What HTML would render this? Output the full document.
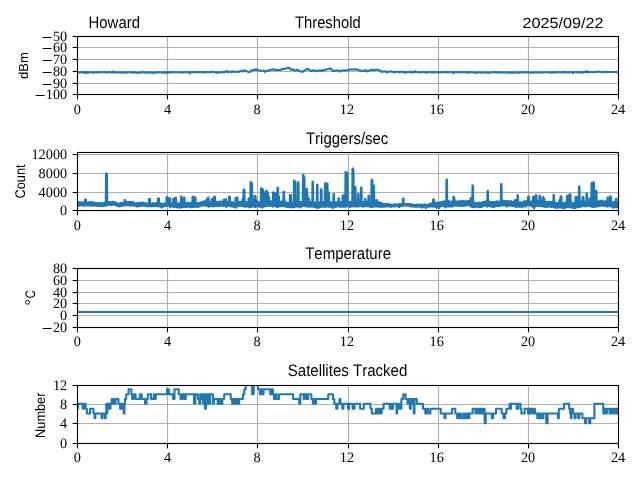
<!DOCTYPE html>
<html><head><meta charset="utf-8"><style>
html,body{margin:0;padding:0;background:#fff;width:640px;height:480px;overflow:hidden}
svg{display:block}
text{font-kerning:none;text-rendering:geometricPrecision}
#w{will-change:transform;width:640px;height:480px}
</style></head><body><div id="w">
<svg width="640" height="480" viewBox="0 0 640 480">
<rect width="640" height="480" fill="#fff"/>
<defs>
<clipPath id="c0"><rect x="77.50" y="36.50" width="541.00" height="58.00"/></clipPath>
<clipPath id="c1"><rect x="77.50" y="152.50" width="541.00" height="58.00"/></clipPath>
<clipPath id="c2"><rect x="77.50" y="268.50" width="541.00" height="59.00"/></clipPath>
<clipPath id="c3"><rect x="77.50" y="385.50" width="541.00" height="58.00"/></clipPath>
</defs>
<line x1="167.50" y1="36.50" x2="167.50" y2="94.50" stroke="#b0b0b0" stroke-width="1.11"/>
<line x1="257.50" y1="36.50" x2="257.50" y2="94.50" stroke="#b0b0b0" stroke-width="1.11"/>
<line x1="348.50" y1="36.50" x2="348.50" y2="94.50" stroke="#b0b0b0" stroke-width="1.11"/>
<line x1="438.50" y1="36.50" x2="438.50" y2="94.50" stroke="#b0b0b0" stroke-width="1.11"/>
<line x1="528.50" y1="36.50" x2="528.50" y2="94.50" stroke="#b0b0b0" stroke-width="1.11"/>
<line x1="77.50" y1="83.50" x2="618.50" y2="83.50" stroke="#b0b0b0" stroke-width="1.11"/>
<line x1="77.50" y1="71.50" x2="618.50" y2="71.50" stroke="#b0b0b0" stroke-width="1.11"/>
<line x1="77.50" y1="59.50" x2="618.50" y2="59.50" stroke="#b0b0b0" stroke-width="1.11"/>
<line x1="77.50" y1="47.50" x2="618.50" y2="47.50" stroke="#b0b0b0" stroke-width="1.11"/>
<polyline points="77.50,72.14 78.00,72.25 78.50,72.47 79.00,72.58 79.50,72.45 80.00,72.21 80.50,72.08 81.00,72.17 81.50,72.34 82.00,72.43 82.50,72.11 83.00,72.16 83.50,72.59 84.00,72.09 84.50,72.14 85.00,73.06 85.50,72.29 86.00,72.50 86.50,72.62 87.00,72.19 87.50,72.27 88.00,72.97 88.50,72.22 89.00,72.35 89.50,72.42 90.00,72.39 90.50,72.34 91.00,72.31 91.50,72.31 92.00,72.31 92.50,72.31 93.00,72.32 93.50,72.99 94.00,72.34 94.50,72.29 95.00,72.21 95.50,72.16 96.00,72.26 96.50,72.45 97.00,72.55 97.50,72.43 98.00,72.22 98.50,72.11 99.00,72.13 99.50,72.17 100.00,72.20 100.50,72.17 101.00,72.10 101.50,72.07 102.00,72.11 102.50,72.18 103.00,72.22 103.50,72.25 104.00,72.29 104.50,71.58 105.00,72.39 105.50,72.53 106.00,72.61 106.50,72.53 107.00,72.38 107.50,72.30 108.00,72.26 108.50,72.19 109.00,72.15 109.50,72.17 110.00,72.21 110.50,72.24 111.00,72.35 111.50,72.57 112.00,72.68 112.50,72.54 113.00,72.27 113.50,71.35 114.00,72.22 114.50,72.38 115.00,72.47 115.50,72.43 116.00,72.36 116.50,72.32 117.00,72.37 117.50,72.45 118.00,72.50 118.50,72.45 119.00,72.36 119.50,72.31 120.00,72.36 120.50,72.47 121.00,72.52 121.50,72.50 122.00,72.44 122.50,72.96 123.00,72.44 123.50,72.48 124.00,72.51 124.50,72.11 125.00,72.62 125.50,72.66 126.00,72.61 126.50,72.23 127.00,72.47 127.50,72.41 128.00,72.28 128.50,72.21 129.00,72.20 129.50,72.18 130.00,72.17 130.50,72.31 131.00,72.05 131.50,72.70 132.00,72.63 132.50,72.50 133.00,72.43 133.50,72.39 134.00,72.30 134.50,72.26 135.00,72.38 135.50,72.60 136.00,72.71 136.50,72.66 137.00,72.89 137.50,72.50 138.00,72.69 138.50,72.57 139.00,72.59 139.50,72.62 140.00,72.66 140.50,72.69 141.00,72.60 141.50,72.43 142.00,72.33 142.50,71.62 143.00,72.27 143.50,72.38 144.00,72.46 144.50,72.61 145.00,72.70 145.50,72.58 146.00,72.37 146.50,72.25 147.00,72.35 147.50,72.54 148.00,72.64 148.50,72.53 149.00,72.34 149.50,72.24 150.00,72.71 150.50,72.51 151.00,72.60 151.50,72.60 152.00,72.54 152.50,73.09 153.00,72.65 153.50,72.72 154.00,72.76 154.50,72.75 155.00,72.72 155.50,72.50 156.00,72.65 156.50,72.55 157.00,72.50 157.50,72.45 158.00,72.36 158.50,72.31 159.00,72.48 159.50,72.28 160.00,72.27 160.50,72.32 161.00,72.43 161.50,72.49 162.00,72.48 162.50,72.47 163.00,73.03 163.50,72.39 164.00,72.26 164.50,72.19 165.00,72.32 165.50,71.79 166.00,73.24 166.50,72.61 167.00,72.50 167.50,72.43 168.00,72.72 168.50,72.51 169.00,72.54 169.50,72.46 170.00,72.32 170.50,72.24 171.00,72.12 171.50,72.24 172.00,72.24 172.50,72.20 173.00,72.13 173.50,72.09 174.00,72.14 174.50,72.23 175.00,72.28 175.50,72.26 176.00,72.24 176.50,72.19 177.00,72.24 177.50,72.29 178.00,72.31 178.50,72.30 179.00,72.28 179.50,72.27 180.00,72.34 180.50,72.47 181.00,72.53 181.50,72.54 182.00,72.55 182.50,72.56 183.00,72.44 183.50,72.23 184.00,72.12 184.50,72.15 185.00,72.21 185.50,71.90 186.00,72.20 186.50,72.13 187.00,72.09 187.50,72.16 188.00,71.95 188.50,72.38 189.00,72.42 189.50,72.51 190.00,73.38 190.50,72.43 191.00,72.20 191.50,72.08 192.00,72.16 192.50,72.32 193.00,72.41 193.50,72.33 194.00,72.19 194.50,72.12 195.00,72.07 195.50,71.98 196.00,71.94 196.50,72.05 197.00,72.26 197.50,72.38 198.00,72.31 198.50,72.18 199.00,72.11 199.50,72.08 200.00,72.03 200.50,72.00 201.00,72.05 201.50,72.13 202.00,72.17 202.50,72.14 203.00,72.09 203.50,72.62 204.00,72.09 204.50,72.14 205.00,72.17 205.50,72.37 206.00,72.19 206.50,72.20 207.00,72.28 207.50,71.85 208.00,72.19 208.50,72.22 209.00,72.27 209.50,72.30 210.00,72.26 210.50,72.17 211.00,72.13 211.50,71.54 212.00,72.05 212.50,72.02 213.00,72.02 213.50,72.02 214.00,72.02 214.50,72.03 215.00,72.04 215.50,72.19 216.00,72.83 216.50,72.23 217.00,72.30 217.50,72.28 218.00,72.80 218.50,72.21 219.00,72.28 219.50,72.41 220.00,72.48 220.50,72.41 221.00,72.30 221.50,72.23 222.00,72.24 222.50,72.27 223.00,72.28 223.50,71.52 224.00,72.35 224.50,72.37 225.00,72.21 225.50,71.92 226.00,70.92 226.50,71.72 227.00,71.68 227.50,71.65 228.00,71.65 228.50,72.43 229.00,71.65 229.50,71.67 230.00,71.71 230.50,71.73 231.00,71.73 231.50,72.35 232.00,71.77 232.50,71.50 233.00,71.80 233.50,71.80 234.00,71.71 234.50,71.58 235.00,71.49 235.50,71.72 236.00,71.95 236.50,72.08 237.00,71.96 237.50,71.69 238.00,71.54 238.50,71.60 239.00,71.65 239.50,71.52 240.00,71.18 240.50,70.90 241.00,70.82 241.50,71.02 242.00,71.32 242.50,71.44 243.00,70.90 243.50,70.67 244.00,70.29 244.50,70.31 245.00,70.71 245.50,71.04 246.00,71.19 246.50,71.29 247.00,71.37 247.50,71.54 248.00,71.80 248.50,72.02 249.00,72.08 249.50,72.02 250.00,72.00 250.50,71.49 251.00,70.75 251.50,70.44 252.00,70.21 252.50,70.13 253.00,70.11 253.50,70.10 254.00,69.76 254.50,69.67 255.00,69.74 255.50,69.24 256.00,70.01 256.50,69.47 257.00,69.80 257.50,70.04 258.00,70.11 258.50,70.24 259.00,70.45 259.50,70.68 260.00,70.84 260.50,70.89 261.00,70.83 261.50,70.71 262.00,70.66 262.50,70.71 263.00,70.75 263.50,70.77 264.00,70.90 264.50,71.11 265.00,71.84 265.50,71.30 266.00,71.26 266.50,71.03 267.00,70.79 267.50,70.63 268.00,70.56 268.50,70.58 269.00,70.83 269.50,70.31 270.00,70.03 270.50,69.80 271.00,69.77 271.50,69.77 272.00,69.66 272.50,69.52 273.00,69.38 273.50,69.11 274.00,69.51 274.50,69.80 275.00,70.06 275.50,70.19 276.00,70.17 276.50,70.07 277.00,69.96 277.50,69.88 278.00,69.87 278.50,69.92 279.00,70.00 279.50,70.07 280.00,70.12 280.50,69.94 281.00,69.77 281.50,69.56 282.00,69.27 282.50,68.64 283.00,68.80 283.50,68.81 284.00,68.93 284.50,68.95 285.00,68.83 285.50,68.69 286.00,68.55 286.50,68.42 287.00,68.26 287.50,68.08 288.00,67.79 288.50,67.52 289.00,67.68 289.50,68.13 290.00,68.67 290.50,69.14 291.00,69.44 291.50,69.98 292.00,69.72 292.50,69.59 293.00,69.38 293.50,69.38 294.00,70.13 294.50,70.25 295.00,70.58 295.50,70.56 296.00,70.32 296.50,70.03 297.00,69.79 297.50,69.77 298.00,69.98 298.50,70.40 299.00,70.88 299.50,71.24 300.00,71.33 300.50,71.33 301.00,71.41 301.50,71.58 302.00,72.01 302.50,71.86 303.00,71.44 303.50,71.07 304.00,70.70 304.50,70.36 305.00,70.14 305.50,69.88 306.00,69.54 306.50,69.39 307.00,69.43 307.50,68.75 308.00,69.11 308.50,69.08 309.00,69.41 309.50,69.91 310.00,70.39 310.50,70.47 311.00,70.86 311.50,70.88 312.00,70.78 312.50,70.67 313.00,70.19 313.50,70.69 314.00,70.20 314.50,70.74 315.00,70.75 315.50,70.87 316.00,71.12 316.50,70.91 317.00,71.23 317.50,71.16 318.00,70.97 318.50,70.73 319.00,70.49 319.50,70.38 320.00,70.38 320.50,70.34 321.00,70.33 321.50,70.39 322.00,71.25 322.50,70.34 323.00,70.22 323.50,70.17 324.00,70.23 324.50,70.26 325.00,70.12 325.50,69.84 326.00,69.60 326.50,69.49 327.00,69.02 327.50,68.95 328.00,69.17 328.50,69.07 329.00,68.89 329.50,68.63 330.00,68.71 330.50,68.35 331.00,68.84 331.50,69.45 332.00,70.06 332.50,70.62 333.00,70.97 333.50,71.01 334.00,70.73 334.50,70.67 335.00,70.80 335.50,70.86 336.00,70.68 336.50,70.39 337.00,70.24 337.50,70.35 338.00,70.67 338.50,71.01 339.00,71.34 339.50,71.06 340.00,71.50 340.50,71.12 341.00,70.75 341.50,70.53 342.00,70.44 342.50,70.39 343.00,70.46 343.50,70.52 344.00,70.44 344.50,70.35 345.00,70.37 345.50,70.47 346.00,70.51 346.50,70.46 347.00,70.39 347.50,70.29 348.00,70.17 348.50,70.04 349.00,69.83 349.50,69.65 350.00,69.57 350.50,69.56 351.00,69.51 351.50,69.44 352.00,69.39 352.50,69.39 353.00,69.42 353.50,69.46 354.00,69.45 354.50,69.38 355.00,69.34 355.50,69.31 356.00,69.27 356.50,69.37 357.00,69.49 357.50,69.64 358.00,69.82 358.50,69.99 359.00,70.15 359.50,70.28 360.00,70.48 360.50,70.71 361.00,70.90 361.50,71.05 362.00,71.11 362.50,71.06 363.00,70.87 363.50,70.69 364.00,70.65 364.50,70.64 365.00,70.59 365.50,70.60 366.00,70.10 366.50,71.17 367.00,71.34 367.50,71.54 368.00,71.11 368.50,70.84 369.00,70.65 369.50,70.48 370.00,70.35 370.50,70.20 371.00,70.00 371.50,69.58 372.00,69.88 372.50,70.04 373.00,70.19 373.50,70.16 374.00,70.03 374.50,69.90 375.00,69.84 375.50,69.81 376.00,69.77 376.50,69.81 377.00,69.87 377.50,69.72 378.00,69.79 378.50,69.86 379.00,70.09 379.50,70.45 380.00,70.55 380.50,71.13 381.00,71.32 381.50,71.56 382.00,72.21 382.50,71.60 383.00,71.48 383.50,71.41 384.00,71.41 384.50,71.41 385.00,71.41 385.50,71.52 386.00,71.70 386.50,72.58 387.00,71.79 387.50,71.75 388.00,71.73 388.50,71.73 389.00,71.73 389.50,71.74 390.00,71.67 390.50,71.53 391.00,71.47 391.50,71.56 392.00,71.74 392.50,71.84 393.00,71.81 393.50,71.76 394.00,72.57 394.50,71.78 395.00,71.86 395.50,71.91 396.00,71.84 396.50,71.72 397.00,71.66 397.50,71.73 398.00,71.86 398.50,71.94 399.00,72.34 399.50,71.96 400.00,71.98 400.50,71.92 401.00,71.81 401.50,71.76 402.00,71.80 402.50,71.89 403.00,71.60 403.50,71.96 404.00,72.01 404.50,72.04 405.00,72.89 405.50,72.15 406.00,72.19 406.50,72.18 407.00,72.17 407.50,72.16 408.00,72.15 408.50,72.12 409.00,72.11 409.50,72.01 410.00,71.83 410.50,71.74 411.00,71.82 411.50,72.71 412.00,72.05 412.50,72.07 413.00,72.09 413.50,72.11 414.00,72.03 414.50,71.86 415.00,71.84 415.50,71.09 416.00,71.96 416.50,72.03 417.00,72.10 417.50,72.22 418.00,72.29 418.50,72.30 419.00,72.32 419.50,72.34 420.00,72.35 420.50,72.35 421.00,72.36 421.50,72.23 422.00,72.00 422.50,71.87 423.00,71.95 423.50,72.10 424.00,72.19 424.50,72.23 425.00,72.31 425.50,72.35 426.00,72.32 426.50,72.66 427.00,72.23 427.50,72.18 428.00,72.09 428.50,72.04 429.00,72.00 429.50,71.92 430.00,71.88 430.50,72.02 431.00,72.27 431.50,72.04 432.00,72.41 432.50,72.39 433.00,72.38 433.50,72.35 434.00,72.30 434.50,72.27 435.00,72.23 435.50,72.15 436.00,72.10 436.50,72.18 437.00,72.31 437.50,72.39 438.00,72.39 438.50,72.39 439.00,72.39 439.50,72.38 440.00,71.98 440.50,72.34 441.00,72.33 441.50,72.29 442.00,72.28 442.50,72.23 443.00,72.16 443.50,72.12 444.00,72.11 444.50,72.11 445.00,72.11 445.50,71.87 446.00,72.14 446.50,72.15 447.00,72.15 447.50,72.47 448.00,72.14 448.50,72.18 449.00,72.23 449.50,72.27 450.00,72.21 450.50,72.09 451.00,72.03 451.50,72.13 452.00,72.31 452.50,72.40 453.00,72.35 453.50,73.07 454.00,72.19 454.50,72.16 455.00,72.11 455.50,72.08 456.00,72.10 456.50,72.13 457.00,72.15 457.50,72.17 458.00,71.61 458.50,72.24 459.00,72.25 459.50,72.26 460.00,72.27 460.50,72.33 461.00,72.43 461.50,72.49 462.00,72.38 462.50,72.19 463.00,72.09 463.50,72.11 464.00,71.85 464.50,71.95 465.00,72.18 465.50,72.20 466.00,72.22 466.50,72.20 467.00,72.58 467.50,72.16 468.00,72.25 468.50,72.42 469.00,72.51 469.50,72.41 470.00,72.23 470.50,72.13 471.00,72.12 471.50,71.93 472.00,72.10 472.50,72.19 473.00,72.33 473.50,72.42 474.00,72.45 474.50,72.50 475.00,72.53 475.50,73.08 476.00,72.58 476.50,72.59 477.00,72.55 477.50,72.48 478.00,72.44 478.50,72.40 479.00,72.33 479.50,72.30 480.00,72.38 480.50,72.54 481.00,72.63 481.50,72.61 482.00,72.56 482.50,72.54 483.00,72.50 483.50,72.43 484.00,72.39 484.50,72.40 485.00,72.42 485.50,72.44 486.00,72.09 486.50,72.60 487.00,72.66 487.50,72.67 488.00,72.69 488.50,72.70 489.00,72.69 489.50,72.67 490.00,72.66 490.50,72.53 491.00,72.30 491.50,72.18 492.00,72.21 492.50,72.27 493.00,72.30 493.50,72.31 494.00,72.33 494.50,72.34 495.00,72.31 495.50,72.24 496.00,72.20 496.50,72.29 497.00,72.46 497.50,72.56 498.00,72.45 498.50,72.25 499.00,72.14 499.50,72.27 500.00,72.50 500.50,72.63 501.00,72.59 501.50,72.50 502.00,72.45 502.50,72.46 503.00,72.64 503.50,72.47 504.00,72.44 504.50,72.38 505.00,72.35 505.50,72.43 506.00,72.73 506.50,72.66 507.00,72.61 507.50,72.50 508.00,72.45 508.50,72.50 509.00,72.59 509.50,72.64 510.00,72.64 510.50,72.65 511.00,72.65 511.50,72.62 512.00,72.55 512.50,72.59 513.00,72.56 513.50,72.64 514.00,72.69 514.50,72.61 515.00,72.47 515.50,72.39 516.00,72.37 516.50,72.34 517.00,72.32 517.50,72.39 518.00,72.53 518.50,73.05 519.00,72.56 519.50,72.47 520.00,72.42 520.50,72.38 521.00,72.32 521.50,71.86 522.00,72.34 522.50,72.45 523.00,72.51 523.50,72.48 524.00,72.42 524.50,72.39 525.00,72.33 525.50,72.23 526.00,72.18 526.50,72.29 527.00,72.49 527.50,72.60 528.00,72.55 528.50,72.45 529.00,72.40 529.50,72.47 530.00,72.61 530.50,72.68 531.00,72.61 531.50,72.49 532.00,72.42 532.50,72.48 533.00,72.60 533.50,72.66 534.00,72.56 534.50,72.37 535.00,72.27 535.50,72.26 536.00,72.24 536.50,72.23 537.00,72.28 537.50,72.63 538.00,72.42 538.50,72.45 539.00,72.52 539.50,72.56 540.00,72.57 540.50,72.59 541.00,72.59 541.50,72.57 542.00,72.52 542.50,72.49 543.00,72.41 543.50,72.26 544.00,72.17 544.50,72.22 545.00,72.29 545.50,72.34 546.00,72.28 546.50,72.18 547.00,72.12 547.50,72.17 548.00,72.27 548.50,72.32 549.00,72.41 549.50,72.58 550.00,72.67 550.50,72.57 551.00,72.40 551.50,72.31 552.00,72.36 552.50,72.46 553.00,72.71 553.50,72.51 554.00,72.48 554.50,72.47 555.00,72.40 555.50,72.26 556.00,72.19 556.50,72.27 557.00,72.43 557.50,72.51 558.00,72.41 558.50,72.23 559.00,72.13 559.50,72.14 560.00,72.13 560.50,72.17 561.00,72.23 561.50,72.34 562.00,72.40 562.50,72.32 563.00,72.19 563.50,71.65 564.00,72.23 564.50,72.47 565.00,72.30 565.50,72.51 566.00,72.35 566.50,72.26 567.00,72.28 567.50,72.34 568.00,72.37 568.50,72.41 569.00,72.50 569.50,72.55 570.00,72.41 570.50,72.16 571.00,72.02 571.50,72.15 572.00,72.41 572.50,72.54 573.00,73.08 573.50,72.10 574.00,71.95 574.50,72.03 575.00,72.19 575.50,72.27 576.00,72.27 576.50,72.29 577.00,72.07 577.50,72.33 578.00,72.42 578.50,72.47 579.00,72.37 579.50,72.18 580.00,72.08 580.50,72.17 581.00,72.33 581.50,72.70 582.00,72.01 582.50,72.75 583.00,72.22 583.50,72.19 584.00,71.61 584.50,72.10 585.00,72.05 585.50,72.16 586.00,71.90 586.50,71.91 587.00,71.05 587.50,72.63 588.00,71.94 588.50,71.98 589.00,71.99 589.50,71.98 590.00,71.97 590.50,71.96 591.00,71.96 591.50,71.97 592.00,71.96 592.50,72.03 593.00,72.15 593.50,72.21 594.00,72.14 594.50,72.01 595.00,71.94 595.50,71.97 596.00,72.04 596.50,72.08 597.00,71.40 597.50,71.81 598.00,71.72 598.50,71.74 599.00,71.77 599.50,71.78 600.00,71.87 600.50,72.04 601.00,72.13 601.50,72.15 602.00,72.21 602.50,72.23 603.00,72.14 603.50,71.98 604.00,71.89 604.50,72.11 605.00,71.76 605.50,71.72 606.00,71.75 606.50,71.81 607.00,72.49 607.50,71.86 608.00,71.90 608.50,71.92 609.00,71.92 609.50,71.92 610.00,71.92 610.50,71.95 611.00,72.01 611.50,72.04 612.00,72.00 612.50,71.92 613.00,71.88 613.50,71.93 614.00,72.03 614.50,72.09 615.00,72.11 615.50,71.88 616.00,72.17 616.50,72.17 617.00,72.17 617.50,72.17 618.00,72.16 618.50,72.15" fill="none" stroke="#1f77b4" stroke-width="2.08" stroke-linejoin="round" stroke-linecap="square" clip-path="url(#c0)"/>
<rect x="77.50" y="36.50" width="541.00" height="58.00" fill="none" stroke="#000" stroke-width="1.11"/>
<line x1="77.50" y1="94.50" x2="77.50" y2="99.36" stroke="#000" stroke-width="1.11"/>
<text x="73.77" y="113.50" font-family='"Liberation Serif", serif' font-size="14.30">0</text>
<line x1="167.50" y1="94.50" x2="167.50" y2="99.36" stroke="#000" stroke-width="1.11"/>
<text x="163.90" y="113.50" font-family='"Liberation Serif", serif' font-size="14.30">4</text>
<line x1="257.50" y1="94.50" x2="257.50" y2="99.36" stroke="#000" stroke-width="1.11"/>
<text x="253.62" y="113.50" font-family='"Liberation Serif", serif' font-size="14.30">8</text>
<line x1="348.50" y1="94.50" x2="348.50" y2="99.36" stroke="#000" stroke-width="1.11"/>
<text x="339.77" y="113.50" font-family='"Liberation Serif", serif' font-size="14.30">12</text>
<line x1="438.50" y1="94.50" x2="438.50" y2="99.36" stroke="#000" stroke-width="1.11"/>
<text x="429.58" y="113.50" font-family='"Liberation Serif", serif' font-size="14.30">16</text>
<line x1="528.50" y1="94.50" x2="528.50" y2="99.36" stroke="#000" stroke-width="1.11"/>
<text x="520.96" y="113.50" font-family='"Liberation Serif", serif' font-size="14.30">20</text>
<line x1="618.50" y1="94.50" x2="618.50" y2="99.36" stroke="#000" stroke-width="1.11"/>
<text x="610.95" y="113.50" font-family='"Liberation Serif", serif' font-size="14.30">24</text>
<line x1="72.64" y1="94.50" x2="77.50" y2="94.50" stroke="#000" stroke-width="1.11"/>
<text x="67.20" y="98.55" text-anchor="end" font-family='"Liberation Serif", serif' font-size="14.30">100</text>
<rect x="35.68" y="94.98" width="8.9" height="1.0" fill="#000"/>
<line x1="72.64" y1="83.50" x2="77.50" y2="83.50" stroke="#000" stroke-width="1.11"/>
<text x="67.20" y="87.55" text-anchor="end" font-family='"Liberation Serif", serif' font-size="14.30">90</text>
<rect x="42.62" y="83.98" width="8.9" height="1.0" fill="#000"/>
<line x1="72.64" y1="71.50" x2="77.50" y2="71.50" stroke="#000" stroke-width="1.11"/>
<text x="67.20" y="75.55" text-anchor="end" font-family='"Liberation Serif", serif' font-size="14.30">80</text>
<rect x="42.62" y="71.98" width="8.9" height="1.0" fill="#000"/>
<line x1="72.64" y1="59.50" x2="77.50" y2="59.50" stroke="#000" stroke-width="1.11"/>
<text x="67.20" y="63.55" text-anchor="end" font-family='"Liberation Serif", serif' font-size="14.30">70</text>
<rect x="42.62" y="59.98" width="8.9" height="1.0" fill="#000"/>
<line x1="72.64" y1="47.50" x2="77.50" y2="47.50" stroke="#000" stroke-width="1.11"/>
<text x="67.20" y="51.55" text-anchor="end" font-family='"Liberation Serif", serif' font-size="14.30">60</text>
<rect x="42.62" y="47.98" width="8.9" height="1.0" fill="#000"/>
<line x1="72.64" y1="36.50" x2="77.50" y2="36.50" stroke="#000" stroke-width="1.11"/>
<text x="67.20" y="40.55" text-anchor="end" font-family='"Liberation Serif", serif' font-size="14.30">50</text>
<rect x="42.62" y="36.98" width="8.9" height="1.0" fill="#000"/>
<line x1="167.50" y1="152.50" x2="167.50" y2="210.50" stroke="#b0b0b0" stroke-width="1.11"/>
<line x1="257.50" y1="152.50" x2="257.50" y2="210.50" stroke="#b0b0b0" stroke-width="1.11"/>
<line x1="348.50" y1="152.50" x2="348.50" y2="210.50" stroke="#b0b0b0" stroke-width="1.11"/>
<line x1="438.50" y1="152.50" x2="438.50" y2="210.50" stroke="#b0b0b0" stroke-width="1.11"/>
<line x1="528.50" y1="152.50" x2="528.50" y2="210.50" stroke="#b0b0b0" stroke-width="1.11"/>
<line x1="77.50" y1="192.50" x2="618.50" y2="192.50" stroke="#b0b0b0" stroke-width="1.11"/>
<line x1="77.50" y1="173.50" x2="618.50" y2="173.50" stroke="#b0b0b0" stroke-width="1.11"/>
<line x1="77.50" y1="154.50" x2="618.50" y2="154.50" stroke="#b0b0b0" stroke-width="1.11"/>
<polyline points="77.50,202.47 77.75,205.29 78.00,202.44 78.25,205.47 78.50,202.17 78.75,205.57 79.00,202.31 79.25,205.45 79.50,202.30 79.75,205.47 80.00,202.30 80.25,205.29 80.50,202.57 80.75,205.19 81.00,202.48 81.25,205.08 81.50,202.43 81.75,205.32 82.00,202.35 82.25,205.16 82.50,202.38 82.75,205.09 83.00,202.62 83.25,205.56 83.50,202.82 83.75,205.67 84.00,202.72 84.25,205.70 84.50,202.80 84.75,205.62 85.00,199.44 85.25,205.33 85.50,199.44 85.75,205.50 86.00,199.44 86.25,205.50 86.50,203.01 86.75,205.48 87.00,203.14 87.25,205.47 87.50,202.89 87.75,205.25 88.00,202.79 88.25,205.21 88.50,202.49 88.75,205.25 89.00,202.41 89.25,205.57 89.50,202.16 89.75,205.40 90.00,202.21 90.25,205.13 90.50,202.32 90.75,204.95 91.00,202.18 91.25,205.43 91.50,202.37 91.75,205.44 92.00,202.52 92.25,205.63 92.50,202.50 92.75,205.78 93.00,202.35 93.25,205.57 93.50,202.48 93.75,205.57 94.00,202.67 94.25,205.53 94.50,202.90 94.75,205.44 95.00,203.20 95.25,205.55 95.50,203.14 95.75,205.60 96.00,203.10 96.25,205.63 96.50,203.20 96.75,205.86 97.00,203.13 97.25,205.74 97.50,203.14 97.75,205.76 98.00,203.21 98.25,205.43 98.50,203.42 98.75,205.51 99.00,203.33 99.25,205.90 99.50,203.19 99.75,206.04 100.00,203.27 100.25,206.09 100.50,203.30 100.75,206.15 101.00,203.29 101.25,206.26 101.50,203.32 101.75,205.93 102.00,203.30 102.25,205.51 102.50,203.35 102.75,205.77 103.00,203.67 103.25,206.04 103.50,203.39 103.75,206.07 104.00,203.33 104.25,205.84 104.50,202.91 104.75,205.66 105.00,202.84 105.25,205.31 105.50,202.73 105.75,205.51 106.00,173.54 106.25,205.54 106.50,173.54 106.75,205.12 107.00,173.54 107.25,204.78 107.50,202.08 107.75,204.93 108.00,201.73 108.25,204.67 108.50,202.10 108.75,204.46 109.00,201.95 109.25,204.81 109.50,202.05 109.75,205.03 110.00,202.18 110.25,205.03 110.50,202.37 110.75,205.30 111.00,202.63 111.25,205.27 111.50,202.36 111.75,205.16 112.00,202.06 112.25,204.69 112.50,201.85 112.75,204.69 113.00,201.85 113.25,204.71 113.50,202.02 113.75,204.49 114.00,202.41 114.25,204.47 114.50,202.38 114.75,204.73 115.00,202.59 115.25,204.79 115.50,202.37 115.75,205.08 116.00,202.54 116.25,205.53 116.50,202.96 116.75,205.73 117.00,203.23 117.25,205.71 117.50,203.54 117.75,205.68 118.00,203.79 118.25,206.02 118.50,203.76 118.75,206.32 119.00,204.08 119.25,206.49 119.50,203.88 119.75,206.48 120.00,203.31 120.25,206.31 120.50,203.17 120.75,205.96 121.00,203.07 121.25,205.64 121.50,203.05 121.75,205.41 122.00,203.12 122.25,205.56 122.50,203.12 122.75,205.71 123.00,203.18 123.25,205.53 123.50,202.81 123.75,205.32 124.00,202.68 124.25,205.08 124.50,200.04 124.75,205.04 125.00,200.04 125.25,205.45 125.50,201.85 125.75,205.36 126.00,202.04 126.25,205.26 126.50,201.98 126.75,205.29 127.00,201.93 127.25,205.27 127.50,201.91 127.75,204.98 128.00,202.19 128.25,204.90 128.50,202.36 128.75,205.00 129.00,202.27 129.25,205.21 129.50,202.24 129.75,205.02 130.00,201.88 130.25,206.00 130.50,201.88 130.75,204.96 131.00,202.03 131.25,205.15 131.50,202.21 131.75,204.98 132.00,202.09 132.25,205.31 132.50,202.26 132.75,205.52 133.00,202.21 133.25,205.72 133.50,202.41 133.75,205.55 134.00,202.84 134.25,205.28 134.50,203.21 134.75,205.39 135.00,203.55 135.25,205.59 135.50,203.62 135.75,205.92 136.00,203.36 136.25,206.03 136.50,203.28 136.75,206.44 137.00,203.18 137.25,206.30 137.50,203.32 137.75,206.47 138.00,203.60 138.25,206.14 138.50,203.27 138.75,206.16 139.00,203.29 139.25,206.06 139.50,202.87 139.75,205.94 140.00,202.95 140.25,205.93 140.50,202.69 140.75,205.71 141.00,202.77 141.25,205.51 141.50,202.56 141.75,205.56 142.00,202.81 142.25,205.75 142.50,202.89 142.75,205.66 143.00,202.96 143.25,205.75 143.50,202.86 143.75,205.43 144.00,203.07 144.25,205.47 144.50,203.18 144.75,205.38 145.00,203.05 145.25,206.19 145.50,203.29 145.75,205.58 146.00,203.54 146.25,205.86 146.50,203.71 146.75,206.07 147.00,203.63 147.25,206.21 147.50,203.69 147.75,206.19 148.00,203.90 148.25,205.93 148.50,203.87 148.75,206.03 149.00,199.04 149.25,206.12 149.50,199.04 149.75,206.27 150.00,199.04 150.25,206.52 150.50,203.86 150.75,206.41 151.00,203.75 151.25,205.87 151.50,203.81 151.75,206.02 152.00,203.60 152.25,206.00 152.50,203.36 152.75,205.70 153.00,203.17 153.25,205.78 153.50,203.57 153.75,206.13 154.00,203.48 154.25,206.13 154.50,203.47 154.75,206.26 155.00,203.50 155.25,205.91 155.50,203.19 155.75,206.02 156.00,203.00 156.25,205.74 156.50,203.12 156.75,205.50 157.00,203.52 157.25,205.84 157.50,203.57 157.75,206.19 158.00,198.54 158.25,206.43 158.50,198.54 158.75,206.15 159.00,198.54 159.25,205.97 159.50,203.72 159.75,205.83 160.00,203.69 160.25,206.27 160.50,203.49 160.75,206.14 161.00,203.47 161.25,207.47 161.50,203.73 161.75,206.69 162.00,203.82 162.25,206.73 162.50,204.02 162.75,206.61 163.00,204.01 163.25,206.41 163.50,203.74 163.75,206.33 164.00,203.63 164.25,206.30 164.50,203.67 164.75,206.12 165.00,203.52 165.25,205.75 165.50,203.27 165.75,205.87 166.00,203.24 166.25,205.95 166.50,197.38 166.75,205.68 167.00,197.38 167.25,205.67 167.50,197.38 167.75,205.51 168.00,203.34 168.25,205.47 168.50,203.27 168.75,205.62 169.00,203.35 169.25,206.05 169.50,198.40 169.75,206.51 170.00,198.40 170.25,207.44 170.50,202.92 170.75,206.19 171.00,203.41 171.25,205.94 171.50,203.84 171.75,206.19 172.00,203.93 172.25,206.45 172.50,203.59 172.75,206.58 173.00,199.06 173.25,206.91 173.50,199.06 173.75,207.09 174.00,199.06 174.25,206.74 174.50,203.18 174.75,206.66 175.00,197.75 175.25,206.74 175.50,197.75 175.75,207.04 176.00,197.75 176.25,207.14 176.50,203.87 176.75,207.17 177.00,203.84 177.25,206.81 177.50,203.57 177.75,206.80 178.00,203.18 178.25,207.24 178.50,203.28 178.75,207.59 179.00,203.52 179.25,207.50 179.50,203.69 179.75,207.36 180.00,203.77 180.25,207.31 180.50,203.53 180.75,207.40 181.00,196.60 181.25,207.20 181.50,196.60 181.75,207.09 182.00,203.35 182.25,207.09 182.50,203.61 182.75,206.95 183.00,203.75 183.25,206.88 183.50,198.59 183.75,206.45 184.00,197.51 184.25,206.41 184.50,197.51 184.75,206.73 185.00,203.35 185.25,206.85 185.50,203.30 185.75,206.58 186.00,203.06 186.25,206.72 186.50,203.23 186.75,206.84 187.00,203.12 187.25,206.57 187.50,202.86 187.75,206.55 188.00,202.52 188.25,206.73 188.50,202.93 188.75,206.54 189.00,203.38 189.25,206.56 189.50,203.61 189.75,206.72 190.00,203.37 190.25,206.80 190.50,203.23 190.75,207.18 191.00,202.90 191.25,206.86 191.50,202.98 191.75,206.92 192.00,202.75 192.25,207.27 192.50,196.82 192.75,206.47 193.00,196.82 193.25,206.45 193.50,196.82 193.75,206.77 194.00,202.62 194.25,207.02 194.50,202.65 194.75,206.91 195.00,197.46 195.25,206.66 195.50,197.46 195.75,206.62 196.00,203.16 196.25,206.43 196.50,203.29 196.75,206.61 197.00,203.06 197.25,206.80 197.50,203.04 197.75,206.80 198.00,203.26 198.25,206.85 198.50,203.06 198.75,206.70 199.00,202.97 199.25,206.37 199.50,202.68 199.75,206.02 200.00,202.48 200.25,205.87 200.50,202.38 200.75,205.65 201.00,202.22 201.25,205.39 201.50,202.02 201.75,205.53 202.00,202.39 202.25,205.38 202.50,202.20 202.75,205.35 203.00,201.80 203.25,205.33 203.50,201.55 203.75,205.47 204.00,201.39 204.25,205.54 204.50,201.64 204.75,205.30 205.00,201.45 205.25,205.54 205.50,201.51 205.75,205.52 206.00,201.67 206.25,205.40 206.50,199.91 206.75,205.83 207.00,199.91 207.25,205.84 207.50,198.78 207.75,206.21 208.00,197.65 208.25,206.50 208.50,197.65 208.75,206.83 209.00,202.87 209.25,206.67 209.50,202.48 209.75,206.16 210.00,202.21 210.25,205.99 210.50,202.01 210.75,206.00 211.00,202.53 211.25,206.06 211.50,199.19 211.75,206.30 212.00,199.19 212.25,206.30 212.50,198.89 212.75,206.38 213.00,198.89 213.25,206.47 213.50,199.10 213.75,206.33 214.00,196.78 214.25,206.25 214.50,196.78 214.75,205.76 215.00,196.78 215.25,205.90 215.50,202.00 215.75,205.98 216.00,201.83 216.25,205.96 216.50,201.75 216.75,205.98 217.00,202.01 217.25,205.84 217.50,202.19 217.75,205.88 218.00,202.34 218.25,205.80 218.50,202.14 218.75,205.41 219.00,201.83 219.25,206.09 219.50,201.73 219.75,205.34 220.00,201.69 220.25,205.52 220.50,201.57 220.75,205.58 221.00,201.80 221.25,205.50 221.50,201.86 221.75,205.38 222.00,202.06 222.25,205.56 222.50,202.03 222.75,205.98 223.00,202.20 223.25,205.96 223.50,199.71 223.75,205.72 224.00,199.71 224.25,205.28 224.50,201.98 224.75,205.56 225.00,201.93 225.25,205.66 225.50,199.00 225.75,205.43 226.00,199.00 226.25,207.23 226.50,201.75 226.75,205.84 227.00,201.70 227.25,205.87 227.50,201.89 227.75,205.85 228.00,202.05 228.25,205.67 228.50,202.04 228.75,205.67 229.00,196.71 229.25,205.63 229.50,196.71 229.75,205.72 230.00,196.71 230.25,205.87 230.50,202.30 230.75,206.30 231.00,202.26 231.25,206.43 231.50,202.17 231.75,206.33 232.00,202.33 232.25,206.43 232.50,202.38 232.75,206.73 233.00,202.49 233.25,206.60 233.50,202.96 233.75,206.62 234.00,202.92 234.25,206.78 234.50,203.20 234.75,206.74 235.00,202.91 235.25,206.80 235.50,198.14 235.75,207.70 236.00,198.14 236.25,206.65 236.50,197.62 236.75,206.49 237.00,197.62 237.25,206.58 237.50,197.62 237.75,206.53 238.00,201.67 238.25,206.07 238.50,201.88 238.75,205.92 239.00,201.80 239.25,205.49 239.50,202.09 239.75,205.33 240.00,202.15 240.25,205.57 240.50,201.96 240.75,205.63 241.00,202.15 241.25,205.90 241.50,202.35 241.75,205.90 242.00,202.38 242.25,205.91 242.50,199.37 242.75,205.73 243.00,198.09 243.25,205.63 243.50,189.74 243.75,206.51 244.00,189.74 244.25,206.06 244.50,189.74 244.75,206.48 245.00,202.14 245.25,206.59 245.50,202.10 245.75,206.47 246.00,202.24 246.25,205.98 246.50,202.22 246.75,206.18 247.00,202.49 247.25,206.41 247.50,202.41 247.75,206.49 248.00,202.29 248.25,206.70 248.50,198.42 248.75,206.49 249.00,198.42 249.25,207.54 249.50,198.42 249.75,206.54 250.00,198.40 250.25,206.78 250.50,182.04 250.75,207.06 251.00,182.04 251.25,206.82 251.50,183.04 251.75,206.80 252.00,183.04 252.25,206.67 252.50,202.21 252.75,206.12 253.00,199.93 253.25,206.12 253.50,199.93 253.75,206.24 254.00,202.81 254.25,206.22 254.50,196.04 254.75,206.91 255.00,196.04 255.25,207.33 255.50,196.04 255.75,206.67 256.00,202.10 256.25,206.48 256.50,200.52 256.75,206.51 257.00,200.52 257.25,206.23 257.50,202.09 257.75,206.37 258.00,202.58 258.25,206.18 258.50,202.49 258.75,206.35 259.00,202.34 259.25,206.58 259.50,202.20 259.75,206.51 260.00,201.98 260.25,206.64 260.50,201.91 260.75,206.84 261.00,188.34 261.25,206.79 261.50,188.34 261.75,206.67 262.00,189.54 262.25,207.75 262.50,189.54 262.75,206.70 263.00,189.54 263.25,206.68 263.50,202.47 263.75,206.53 264.00,202.19 264.25,206.37 264.50,194.03 264.75,206.07 265.00,194.03 265.25,206.16 265.50,191.58 265.75,206.02 266.00,191.58 266.25,206.16 266.50,191.14 266.75,205.74 267.00,191.14 267.25,205.62 267.50,193.26 267.75,205.53 268.00,193.26 268.25,205.92 268.50,196.83 268.75,205.94 269.00,196.83 269.25,205.78 269.50,201.70 269.75,205.73 270.00,201.62 270.25,205.60 270.50,201.38 270.75,205.57 271.00,201.35 271.25,205.59 271.50,201.62 271.75,205.57 272.00,201.75 272.25,206.07 272.50,202.20 272.75,206.67 273.00,192.43 273.25,206.06 273.50,192.43 273.75,205.77 274.00,192.43 274.25,206.04 274.50,197.63 274.75,205.94 275.00,202.13 275.25,206.11 275.50,194.59 275.75,206.38 276.00,193.36 276.25,206.38 276.50,193.36 276.75,206.46 277.00,201.72 277.25,207.29 277.50,187.84 277.75,206.12 278.00,187.84 278.25,206.35 278.50,196.45 278.75,206.46 279.00,196.45 279.25,206.49 279.50,201.38 279.75,206.05 280.00,201.62 280.25,206.13 280.50,201.83 280.75,206.01 281.00,201.73 281.25,205.94 281.50,201.87 281.75,206.11 282.00,201.81 282.25,205.75 282.50,201.90 282.75,205.53 283.00,201.90 283.25,205.72 283.50,191.70 283.75,206.14 284.00,191.70 284.25,206.52 284.50,199.00 284.75,206.55 285.00,202.32 285.25,206.08 285.50,202.40 285.75,206.10 286.00,202.43 286.25,206.45 286.50,202.75 286.75,206.63 287.00,202.74 287.25,206.84 287.50,202.72 287.75,206.88 288.00,202.82 288.25,207.03 288.50,202.75 288.75,207.01 289.00,202.78 289.25,207.02 289.50,202.68 289.75,207.24 290.00,195.12 290.25,207.08 290.50,195.12 290.75,207.22 291.00,195.12 291.25,207.09 291.50,202.87 291.75,206.87 292.00,202.69 292.25,206.94 292.50,202.49 292.75,207.12 293.00,202.41 293.25,207.24 293.50,202.15 293.75,207.17 294.00,180.54 294.25,207.19 294.50,180.54 294.75,207.01 295.00,182.04 295.25,206.58 295.50,182.04 295.75,206.32 296.00,202.21 296.25,206.47 296.50,202.12 296.75,206.51 297.00,202.28 297.25,206.65 297.50,201.93 297.75,206.75 298.00,182.24 298.25,206.57 298.50,182.24 298.75,206.54 299.00,202.10 299.25,206.28 299.50,201.84 299.75,206.09 300.00,202.22 300.25,207.55 300.50,202.20 300.75,206.46 301.00,202.28 301.25,206.28 301.50,202.27 301.75,206.15 302.00,202.20 302.25,206.21 302.50,202.15 302.75,205.94 303.00,174.94 303.25,206.06 303.50,174.94 303.75,205.86 304.00,177.04 304.25,206.11 304.50,177.04 304.75,206.19 305.00,201.87 305.25,206.30 305.50,201.58 305.75,205.99 306.00,201.56 306.25,205.90 306.50,189.04 306.75,206.12 307.00,189.04 307.25,206.32 307.50,195.07 307.75,206.68 308.00,202.12 308.25,206.62 308.50,198.84 308.75,206.62 309.00,198.84 309.25,206.50 309.50,201.76 309.75,206.28 310.00,202.01 310.25,206.27 310.50,202.00 310.75,206.40 311.00,201.70 311.25,206.56 311.50,201.88 311.75,206.78 312.00,201.87 312.25,206.15 312.50,181.74 312.75,205.90 313.00,181.74 313.25,206.47 313.50,202.37 313.75,206.74 314.00,202.37 314.25,207.05 314.50,202.46 314.75,207.04 315.00,202.58 315.25,206.96 315.50,202.91 315.75,207.14 316.00,203.00 316.25,207.75 316.50,203.13 316.75,207.79 317.00,184.84 317.25,207.87 317.50,184.84 317.75,207.32 318.00,203.26 318.25,207.36 318.50,203.21 318.75,207.45 319.00,202.81 319.25,207.57 319.50,202.87 319.75,207.23 320.00,203.11 320.25,206.96 320.50,203.11 320.75,206.50 321.00,189.34 321.25,206.65 321.50,189.34 321.75,206.26 322.00,202.69 322.25,206.37 322.50,202.53 322.75,206.70 323.00,202.26 323.25,206.77 323.50,202.09 323.75,206.80 324.00,202.00 324.25,206.81 324.50,202.11 324.75,206.74 325.00,183.34 325.25,206.70 325.50,183.34 325.75,206.71 326.00,194.00 326.25,206.80 326.50,194.00 326.75,206.58 327.00,183.64 327.25,206.35 327.50,183.64 327.75,206.58 328.00,202.43 328.25,206.45 328.50,192.64 328.75,206.58 329.00,192.64 329.25,206.90 329.50,202.39 329.75,206.81 330.00,202.66 330.25,206.69 330.50,202.35 330.75,206.58 331.00,202.61 331.25,206.56 331.50,202.44 331.75,206.75 332.00,202.54 332.25,207.12 332.50,202.59 332.75,208.23 333.00,202.83 333.25,206.94 333.50,193.94 333.75,206.75 334.00,193.94 334.25,206.80 334.50,202.49 334.75,206.72 335.00,201.98 335.25,206.94 335.50,202.30 335.75,206.81 336.00,202.43 336.25,206.69 336.50,202.43 336.75,206.50 337.00,202.34 337.25,206.22 337.50,202.34 337.75,206.51 338.00,202.34 338.25,206.14 338.50,198.40 338.75,206.05 339.00,198.40 339.25,206.31 339.50,202.31 339.75,206.73 340.00,202.36 340.25,206.93 340.50,202.24 340.75,206.76 341.00,202.33 341.25,206.31 341.50,202.07 341.75,206.39 342.00,202.07 342.25,206.58 342.50,196.74 342.75,206.73 343.00,195.39 343.25,206.78 343.50,195.39 343.75,206.59 344.00,197.86 344.25,206.77 344.50,198.27 344.75,206.64 345.00,202.19 345.25,206.73 345.50,172.14 345.75,206.52 346.00,172.14 346.25,206.31 346.50,173.04 346.75,206.35 347.00,173.04 347.25,206.26 347.50,173.04 347.75,206.31 348.00,202.24 348.25,206.09 348.50,202.12 348.75,206.32 349.00,201.92 349.25,206.61 349.50,202.10 349.75,206.39 350.00,201.85 350.25,206.02 350.50,201.89 350.75,206.62 351.00,201.99 351.25,206.19 351.50,201.82 351.75,206.59 352.00,202.00 352.25,206.31 352.50,168.64 352.75,205.96 353.00,168.64 353.25,206.15 353.50,170.04 353.75,206.11 354.00,201.62 354.25,206.06 354.50,201.51 354.75,206.11 355.00,186.94 355.25,206.09 355.50,186.94 355.75,206.76 356.00,201.77 356.25,206.19 356.50,201.68 356.75,206.41 357.00,201.88 357.25,206.21 357.50,201.74 357.75,206.45 358.00,193.94 358.25,206.36 358.50,193.94 358.75,206.36 359.00,201.51 359.25,206.24 359.50,201.79 359.75,206.02 360.00,201.55 360.25,205.91 360.50,201.63 360.75,205.92 361.00,187.84 361.25,206.00 361.50,187.84 361.75,206.18 362.00,201.82 362.25,206.44 362.50,202.12 362.75,206.60 363.00,202.08 363.25,206.47 363.50,201.96 363.75,206.43 364.00,202.05 364.25,206.29 364.50,201.93 364.75,206.10 365.00,198.84 365.25,206.29 365.50,198.84 365.75,206.14 366.00,202.17 366.25,206.00 366.50,201.87 366.75,206.04 367.00,201.76 367.25,206.14 367.50,201.87 367.75,206.09 368.00,201.76 368.25,206.17 368.50,195.74 368.75,206.24 369.00,195.74 369.25,206.47 369.50,202.27 369.75,206.56 370.00,202.30 370.25,206.89 370.50,202.43 370.75,207.11 371.00,202.45 371.25,206.91 371.50,179.84 371.75,206.96 372.00,179.84 372.25,206.91 372.50,181.04 372.75,206.75 373.00,202.21 373.25,206.73 373.50,185.54 373.75,206.38 374.00,185.54 374.25,206.30 374.50,202.08 374.75,206.35 375.00,202.00 375.25,206.57 375.50,202.21 375.75,206.32 376.00,200.24 376.25,206.37 376.50,200.24 376.75,206.54 377.00,200.24 377.25,206.35 377.50,202.42 377.75,206.39 378.00,201.93 378.25,206.60 378.50,202.10 378.75,206.42 379.00,202.32 379.25,206.39 379.50,202.49 379.75,206.52 380.00,202.73 380.25,206.78 380.50,203.04 380.75,206.93 381.00,203.00 381.25,206.71 381.50,203.11 381.75,206.69 382.00,203.33 382.25,206.58 382.50,203.71 382.75,206.78 383.00,203.97 383.25,206.79 383.50,203.98 383.75,206.55 384.00,203.88 384.25,206.65 384.50,203.93 384.75,206.60 385.00,204.21 385.25,206.41 385.50,203.97 385.75,206.47 386.00,204.13 386.25,206.51 386.50,204.12 386.75,206.38 387.00,204.24 387.25,206.52 387.50,204.21 387.75,206.14 388.00,204.15 388.25,206.18 388.50,204.38 388.75,206.20 389.00,204.35 389.25,206.47 389.50,204.19 389.75,206.47 390.00,204.49 390.25,206.68 390.50,204.59 390.75,206.85 391.00,205.01 391.25,206.76 391.50,204.95 391.75,206.25 392.00,204.90 392.25,206.14 392.50,204.84 392.75,206.31 393.00,204.86 393.25,206.44 393.50,204.89 393.75,206.72 394.00,204.57 394.25,206.43 394.50,204.69 394.75,206.53 395.00,204.61 395.25,206.34 395.50,204.39 395.75,206.28 396.00,204.46 396.25,206.02 396.50,204.64 396.75,206.07 397.00,204.65 397.25,205.97 397.50,204.73 397.75,206.29 398.00,204.53 398.25,206.48 398.50,204.40 398.75,207.25 399.00,204.14 399.25,207.00 399.50,204.38 399.75,206.05 400.00,204.06 400.25,205.84 400.50,204.18 400.75,206.09 401.00,204.10 401.25,206.24 401.50,204.42 401.75,206.15 402.00,204.45 402.25,205.82 402.50,204.77 402.75,205.59 403.00,198.54 403.25,205.68 403.50,198.54 403.75,205.89 404.00,203.96 404.25,205.53 404.50,204.16 404.75,205.39 405.00,203.91 405.25,205.26 405.50,203.98 405.75,205.44 406.00,204.04 406.25,205.46 406.50,204.11 406.75,205.57 407.00,204.06 407.25,205.69 407.50,204.08 407.75,205.63 408.00,204.13 408.25,205.74 408.50,204.07 408.75,205.24 409.00,204.24 409.25,205.38 409.50,204.01 409.75,205.58 410.00,204.15 410.25,205.99 410.50,204.30 410.75,206.35 411.00,204.34 411.25,206.33 411.50,204.69 411.75,206.59 412.00,204.79 412.25,206.38 412.50,204.83 412.75,206.36 413.00,204.69 413.25,206.24 413.50,204.90 413.75,206.23 414.00,204.92 414.25,206.62 414.50,205.07 414.75,206.49 415.00,204.99 415.25,206.70 415.50,205.06 415.75,206.81 416.00,204.95 416.25,206.91 416.50,204.60 416.75,206.80 417.00,204.75 417.25,206.60 417.50,204.83 417.75,206.56 418.00,204.95 418.25,206.39 418.50,204.97 418.75,206.55 419.00,204.78 419.25,206.74 419.50,204.82 419.75,206.81 420.00,204.74 420.25,206.35 420.50,204.85 420.75,206.30 421.00,204.58 421.25,206.47 421.50,204.68 421.75,207.68 422.00,204.92 422.25,206.42 422.50,204.85 422.75,206.93 423.00,205.07 423.25,206.97 423.50,204.83 423.75,206.90 424.00,204.56 424.25,206.24 424.50,204.51 424.75,206.24 425.00,204.57 425.25,206.46 425.50,204.85 425.75,208.31 426.00,205.14 426.25,206.95 426.50,205.28 426.75,206.84 427.00,204.93 427.25,206.72 427.50,204.92 427.75,206.66 428.00,204.56 428.25,206.42 428.50,204.69 428.75,206.72 429.00,204.35 429.25,206.53 429.50,204.34 429.75,206.54 430.00,204.25 430.25,206.52 430.50,203.86 430.75,206.44 431.00,203.64 431.25,206.49 431.50,203.52 431.75,206.40 432.00,203.62 432.25,206.12 432.50,203.56 432.75,206.40 433.00,199.54 433.25,206.40 433.50,199.54 433.75,206.56 434.00,199.54 434.25,206.64 434.50,202.73 434.75,206.29 435.00,202.70 435.25,206.42 435.50,202.85 435.75,206.98 436.00,203.04 436.25,207.07 436.50,202.88 436.75,207.95 437.00,203.21 437.25,207.22 437.50,203.30 437.75,207.26 438.00,203.23 438.25,207.18 438.50,202.62 438.75,207.12 439.00,202.39 439.25,207.93 439.50,202.45 439.75,206.51 440.00,202.51 440.25,206.09 440.50,202.58 440.75,206.22 441.00,202.34 441.25,206.09 441.50,202.23 441.75,205.86 442.00,201.80 442.25,205.75 442.50,201.79 442.75,205.55 443.00,201.74 443.25,205.47 443.50,201.60 443.75,205.96 444.00,201.73 444.25,205.76 444.50,201.58 444.75,205.90 445.00,201.64 445.25,207.43 445.50,201.64 445.75,205.89 446.00,201.55 446.25,206.31 446.50,179.84 446.75,206.55 447.00,179.84 447.25,206.44 447.50,200.56 447.75,206.27 448.00,201.92 448.25,206.53 448.50,201.37 448.75,206.28 449.00,201.37 449.25,206.38 449.50,201.37 449.75,206.24 450.00,202.32 450.25,206.31 450.50,202.20 450.75,206.33 451.00,202.02 451.25,205.90 451.50,201.88 451.75,205.54 452.00,201.57 452.25,206.82 452.50,201.47 452.75,205.77 453.00,200.51 453.25,205.82 453.50,196.74 453.75,205.83 454.00,196.74 454.25,205.31 454.50,198.70 454.75,205.24 455.00,200.92 455.25,205.58 455.50,200.92 455.75,205.59 456.00,201.84 456.25,205.60 456.50,201.91 456.75,205.58 457.00,201.88 457.25,205.33 457.50,201.75 457.75,205.54 458.00,201.51 458.25,205.89 458.50,201.31 458.75,205.91 459.00,201.45 459.25,205.50 459.50,201.33 459.75,205.04 460.00,201.26 460.25,205.50 460.50,201.16 460.75,205.76 461.00,201.05 461.25,206.03 461.50,201.22 461.75,206.04 462.00,201.23 462.25,205.92 462.50,201.24 462.75,205.86 463.00,201.14 463.25,205.73 463.50,201.04 463.75,205.35 464.00,201.19 464.25,205.63 464.50,201.31 464.75,205.81 465.00,201.48 465.25,205.58 465.50,201.55 465.75,205.37 466.00,201.42 466.25,205.05 466.50,201.28 466.75,205.04 467.00,201.18 467.25,204.96 467.50,201.18 467.75,205.09 468.00,200.98 468.25,205.06 468.50,201.16 468.75,205.18 469.00,201.89 469.25,205.22 469.50,202.14 469.75,205.51 470.00,202.29 470.25,205.51 470.50,198.40 470.75,205.88 471.00,198.40 471.25,205.92 471.50,202.55 471.75,207.07 472.00,202.76 472.25,206.63 472.50,185.54 472.75,207.23 473.00,185.54 473.25,206.90 473.50,202.83 473.75,206.70 474.00,202.76 474.25,206.41 474.50,202.59 474.75,206.92 475.00,202.78 475.25,207.12 475.50,203.13 475.75,206.86 476.00,203.22 476.25,206.80 476.50,203.17 476.75,206.76 477.00,203.05 477.25,206.72 477.50,202.94 477.75,206.74 478.00,202.72 478.25,206.96 478.50,202.64 478.75,206.89 479.00,202.59 479.25,207.11 479.50,202.93 479.75,206.89 480.00,202.83 480.25,206.77 480.50,202.97 480.75,206.65 481.00,202.82 481.25,207.11 481.50,202.63 481.75,206.90 482.00,202.55 482.25,206.64 482.50,202.26 482.75,206.27 483.00,202.18 483.25,205.76 483.50,201.96 483.75,205.75 484.00,202.07 484.25,205.83 484.50,201.73 484.75,205.68 485.00,201.81 485.25,205.45 485.50,201.69 485.75,205.67 486.00,201.44 486.25,205.56 486.50,201.10 486.75,205.57 487.00,201.26 487.25,206.69 487.50,191.14 487.75,205.99 488.00,191.14 488.25,206.01 488.50,202.25 488.75,206.00 489.00,202.18 489.25,206.08 489.50,202.21 489.75,206.08 490.00,201.87 490.25,206.16 490.50,202.26 490.75,206.16 491.00,202.18 491.25,206.60 491.50,202.06 491.75,206.64 492.00,202.14 492.25,206.89 492.50,202.08 492.75,206.76 493.00,202.32 493.25,206.10 493.50,202.15 493.75,206.23 494.00,202.19 494.25,207.14 494.50,202.37 494.75,206.21 495.00,202.44 495.25,206.24 495.50,201.99 495.75,206.26 496.00,201.63 496.25,206.31 496.50,201.57 496.75,205.96 497.00,201.39 497.25,206.08 497.50,201.73 497.75,205.99 498.00,201.86 498.25,206.01 498.50,201.95 498.75,206.26 499.00,201.91 499.25,205.96 499.50,201.83 499.75,205.96 500.00,201.56 500.25,205.99 500.50,201.79 500.75,205.70 501.00,184.14 501.25,205.41 501.50,184.14 501.75,205.51 502.00,201.33 502.25,205.09 502.50,200.96 502.75,204.97 503.00,200.71 503.25,205.32 503.50,200.86 503.75,205.34 504.00,201.06 504.25,205.31 504.50,201.16 504.75,205.27 505.00,201.21 505.25,205.08 505.50,201.38 505.75,205.54 506.00,201.34 506.25,205.47 506.50,201.37 506.75,206.77 507.00,201.41 507.25,205.60 507.50,201.34 507.75,205.49 508.00,201.43 508.25,205.50 508.50,201.38 508.75,205.59 509.00,201.35 509.25,205.47 509.50,201.47 509.75,205.50 510.00,201.52 510.25,205.76 510.50,201.33 510.75,205.47 511.00,201.32 511.25,205.43 511.50,201.33 511.75,205.62 512.00,201.54 512.25,205.90 512.50,201.83 512.75,206.07 513.00,201.92 513.25,206.18 513.50,201.87 513.75,206.29 514.00,202.25 514.25,206.32 514.50,202.26 514.75,206.17 515.00,200.15 515.25,206.11 515.50,200.15 515.75,205.96 516.00,200.15 516.25,207.11 516.50,201.70 516.75,206.53 517.00,201.92 517.25,206.51 517.50,195.34 517.75,206.54 518.00,195.34 518.25,206.56 518.50,202.56 518.75,206.67 519.00,202.74 519.25,206.60 519.50,202.67 519.75,206.85 520.00,202.60 520.25,206.64 520.50,202.45 520.75,206.51 521.00,202.31 521.25,206.37 521.50,202.56 521.75,206.43 522.00,202.73 522.25,206.26 522.50,202.49 522.75,207.35 523.00,202.42 523.25,206.14 523.50,202.03 523.75,205.94 524.00,201.47 524.25,205.81 524.50,201.54 524.75,205.72 525.00,201.34 525.25,205.60 525.50,201.18 525.75,206.76 526.00,201.06 526.25,205.64 526.50,201.26 526.75,205.39 527.00,201.43 527.25,204.94 527.50,201.37 527.75,205.02 528.00,196.89 528.25,204.90 528.50,196.89 528.75,204.90 529.00,196.89 529.25,205.28 529.50,201.52 529.75,205.41 530.00,201.89 530.25,205.73 530.50,202.00 530.75,205.55 531.00,201.70 531.25,205.74 531.50,201.54 531.75,205.99 532.00,201.49 532.25,206.39 532.50,201.86 532.75,206.60 533.00,196.68 533.25,206.50 533.50,196.68 533.75,207.83 534.00,202.25 534.25,208.17 534.50,201.82 534.75,206.78 535.00,201.75 535.25,206.50 535.50,195.34 535.75,206.11 536.00,195.34 536.25,205.69 536.50,195.34 536.75,205.41 537.00,201.19 537.25,205.56 537.50,201.26 537.75,205.60 538.00,201.02 538.25,205.30 538.50,200.95 538.75,205.99 539.00,200.87 539.25,204.98 539.50,195.72 539.75,205.30 540.00,195.72 540.25,205.87 540.50,200.83 540.75,205.74 541.00,200.71 541.25,205.83 541.50,200.88 541.75,206.10 542.00,201.12 542.25,206.04 542.50,197.38 542.75,206.08 543.00,197.38 543.25,206.17 543.50,197.38 543.75,206.60 544.00,198.74 544.25,206.93 544.50,198.74 544.75,206.59 545.00,201.99 545.25,206.62 545.50,202.20 545.75,206.62 546.00,202.28 546.25,206.61 546.50,202.13 546.75,206.94 547.00,202.01 547.25,206.86 547.50,201.97 547.75,206.45 548.00,202.10 548.25,206.38 548.50,201.91 548.75,206.27 549.00,202.12 549.25,206.30 549.50,202.13 549.75,206.44 550.00,201.88 550.25,206.75 550.50,202.06 550.75,206.89 551.00,202.07 551.25,206.76 551.50,202.15 551.75,206.87 552.00,202.17 552.25,206.66 552.50,201.90 552.75,206.72 553.00,202.33 553.25,206.67 553.50,195.04 553.75,206.98 554.00,195.04 554.25,207.47 554.50,202.64 554.75,207.34 555.00,202.72 555.25,207.37 555.50,203.11 555.75,207.64 556.00,203.12 556.25,207.55 556.50,203.18 556.75,207.82 557.00,203.12 557.25,208.05 557.50,203.02 557.75,207.70 558.00,202.85 558.25,207.39 558.50,203.16 558.75,207.11 559.00,203.24 559.25,207.43 559.50,199.99 559.75,207.43 560.00,199.99 560.25,207.25 560.50,196.54 560.75,207.54 561.00,196.54 561.25,207.45 561.50,196.54 561.75,207.56 562.00,203.61 562.25,207.72 562.50,203.60 562.75,207.74 563.00,203.45 563.25,207.85 563.50,203.55 563.75,208.14 564.00,203.45 564.25,208.36 564.50,203.04 564.75,207.53 565.00,202.76 565.25,207.22 565.50,202.88 565.75,207.35 566.00,202.61 566.25,207.40 566.50,202.43 566.75,207.21 567.00,195.84 567.25,207.10 567.50,195.84 567.75,206.92 568.00,195.84 568.25,206.85 568.50,202.45 568.75,207.11 569.00,202.59 569.25,207.03 569.50,194.54 569.75,207.35 570.00,194.54 570.25,207.16 570.50,194.54 570.75,207.22 571.00,202.69 571.25,206.81 571.50,202.57 571.75,206.77 572.00,202.59 572.25,207.44 572.50,202.71 572.75,208.01 573.00,203.04 573.25,207.79 573.50,203.19 573.75,207.71 574.00,203.07 574.25,207.90 574.50,203.36 574.75,207.50 575.00,203.28 575.25,208.00 575.50,197.04 575.75,207.47 576.00,197.04 576.25,207.57 576.50,197.04 576.75,207.54 577.00,202.80 577.25,207.32 577.50,199.80 577.75,207.04 578.00,199.80 578.25,206.84 578.50,196.20 578.75,207.07 579.00,186.64 579.25,206.94 579.50,186.64 579.75,207.05 580.00,202.26 580.25,206.78 580.50,202.09 580.75,206.70 581.00,201.76 581.25,206.34 581.50,201.71 581.75,206.24 582.00,201.74 582.25,206.06 582.50,196.94 582.75,205.99 583.00,196.94 583.25,205.95 583.50,196.94 583.75,205.96 584.00,201.87 584.25,206.11 584.50,201.63 584.75,206.12 585.00,201.54 585.25,206.29 585.50,201.31 585.75,206.29 586.00,201.30 586.25,206.15 586.50,193.44 586.75,206.13 587.00,193.44 587.25,206.02 587.50,201.62 587.75,205.83 588.00,201.79 588.25,205.77 588.50,201.88 588.75,205.78 589.00,201.75 589.25,205.72 589.50,198.46 589.75,205.79 590.00,198.46 590.25,205.90 590.50,198.46 590.75,206.53 591.00,200.35 591.25,206.48 591.50,183.04 591.75,206.65 592.00,183.04 592.25,206.71 592.50,202.55 592.75,206.81 593.00,202.56 593.25,206.92 593.50,182.24 593.75,206.99 594.00,182.24 594.25,206.88 594.50,201.90 594.75,206.54 595.00,201.63 595.25,206.60 595.50,191.04 595.75,206.43 596.00,191.04 596.25,206.45 596.50,191.04 596.75,206.35 597.00,201.64 597.25,206.47 597.50,201.54 597.75,206.12 598.00,201.52 598.25,205.84 598.50,201.35 598.75,205.89 599.00,201.45 599.25,205.63 599.50,201.32 599.75,205.91 600.00,200.99 600.25,205.91 600.50,200.98 600.75,205.60 601.00,200.86 601.25,205.44 601.50,200.87 601.75,205.32 602.00,200.65 602.25,205.19 602.50,200.91 602.75,205.15 603.00,201.31 603.25,205.61 603.50,201.54 603.75,206.13 604.00,201.76 604.25,205.92 604.50,201.76 604.75,205.77 605.00,201.40 605.25,205.44 605.50,201.59 605.75,205.80 606.00,201.31 606.25,206.22 606.50,201.43 606.75,206.39 607.00,201.43 607.25,206.79 607.50,197.54 607.75,206.18 608.00,197.54 608.25,205.96 608.50,201.89 608.75,206.13 609.00,201.94 609.25,206.12 609.50,202.07 609.75,206.25 610.00,196.56 610.25,206.22 610.50,196.56 610.75,206.24 611.00,196.56 611.25,206.47 611.50,202.36 611.75,206.75 612.00,202.36 612.25,206.94 612.50,202.42 612.75,206.55 613.00,202.45 613.25,207.87 613.50,202.40 613.75,206.74 614.00,202.44 614.25,206.89 614.50,202.11 614.75,206.92 615.00,202.24 615.25,206.71 615.50,200.44 615.75,206.87 616.00,198.82 616.25,207.02 616.50,198.82 616.75,207.38 617.00,202.91 617.25,207.51 617.50,203.03 617.75,207.11 618.00,203.02 618.25,207.13 618.50,202.92" fill="none" stroke="#1f77b4" stroke-width="2.08" stroke-linejoin="round" stroke-linecap="square" clip-path="url(#c1)"/>
<rect x="77.50" y="152.50" width="541.00" height="58.00" fill="none" stroke="#000" stroke-width="1.11"/>
<line x1="77.50" y1="210.50" x2="77.50" y2="215.36" stroke="#000" stroke-width="1.11"/>
<text x="73.77" y="229.50" font-family='"Liberation Serif", serif' font-size="14.30">0</text>
<line x1="167.50" y1="210.50" x2="167.50" y2="215.36" stroke="#000" stroke-width="1.11"/>
<text x="163.90" y="229.50" font-family='"Liberation Serif", serif' font-size="14.30">4</text>
<line x1="257.50" y1="210.50" x2="257.50" y2="215.36" stroke="#000" stroke-width="1.11"/>
<text x="253.62" y="229.50" font-family='"Liberation Serif", serif' font-size="14.30">8</text>
<line x1="348.50" y1="210.50" x2="348.50" y2="215.36" stroke="#000" stroke-width="1.11"/>
<text x="339.77" y="229.50" font-family='"Liberation Serif", serif' font-size="14.30">12</text>
<line x1="438.50" y1="210.50" x2="438.50" y2="215.36" stroke="#000" stroke-width="1.11"/>
<text x="429.58" y="229.50" font-family='"Liberation Serif", serif' font-size="14.30">16</text>
<line x1="528.50" y1="210.50" x2="528.50" y2="215.36" stroke="#000" stroke-width="1.11"/>
<text x="520.96" y="229.50" font-family='"Liberation Serif", serif' font-size="14.30">20</text>
<line x1="618.50" y1="210.50" x2="618.50" y2="215.36" stroke="#000" stroke-width="1.11"/>
<text x="610.95" y="229.50" font-family='"Liberation Serif", serif' font-size="14.30">24</text>
<line x1="72.64" y1="210.50" x2="77.50" y2="210.50" stroke="#000" stroke-width="1.11"/>
<text x="67.20" y="214.55" text-anchor="end" font-family='"Liberation Serif", serif' font-size="14.30">0</text>
<line x1="72.64" y1="192.50" x2="77.50" y2="192.50" stroke="#000" stroke-width="1.11"/>
<text x="67.20" y="196.55" text-anchor="end" font-family='"Liberation Serif", serif' font-size="14.30">4000</text>
<line x1="72.64" y1="173.50" x2="77.50" y2="173.50" stroke="#000" stroke-width="1.11"/>
<text x="67.20" y="177.55" text-anchor="end" font-family='"Liberation Serif", serif' font-size="14.30">8000</text>
<line x1="72.64" y1="154.50" x2="77.50" y2="154.50" stroke="#000" stroke-width="1.11"/>
<text x="67.20" y="158.55" text-anchor="end" font-family='"Liberation Serif", serif' font-size="14.30">12000</text>
<line x1="167.50" y1="268.50" x2="167.50" y2="327.50" stroke="#b0b0b0" stroke-width="1.11"/>
<line x1="257.50" y1="268.50" x2="257.50" y2="327.50" stroke="#b0b0b0" stroke-width="1.11"/>
<line x1="348.50" y1="268.50" x2="348.50" y2="327.50" stroke="#b0b0b0" stroke-width="1.11"/>
<line x1="438.50" y1="268.50" x2="438.50" y2="327.50" stroke="#b0b0b0" stroke-width="1.11"/>
<line x1="528.50" y1="268.50" x2="528.50" y2="327.50" stroke="#b0b0b0" stroke-width="1.11"/>
<line x1="77.50" y1="315.50" x2="618.50" y2="315.50" stroke="#b0b0b0" stroke-width="1.11"/>
<line x1="77.50" y1="303.50" x2="618.50" y2="303.50" stroke="#b0b0b0" stroke-width="1.11"/>
<line x1="77.50" y1="292.50" x2="618.50" y2="292.50" stroke="#b0b0b0" stroke-width="1.11"/>
<line x1="77.50" y1="280.50" x2="618.50" y2="280.50" stroke="#b0b0b0" stroke-width="1.11"/>
<line x1="77.50" y1="312.00" x2="618.50" y2="312.00" stroke="#1f77b4" stroke-width="2.08"/>
<rect x="77.50" y="268.50" width="541.00" height="59.00" fill="none" stroke="#000" stroke-width="1.11"/>
<line x1="77.50" y1="327.50" x2="77.50" y2="332.36" stroke="#000" stroke-width="1.11"/>
<text x="73.77" y="345.50" font-family='"Liberation Serif", serif' font-size="14.30">0</text>
<line x1="167.50" y1="327.50" x2="167.50" y2="332.36" stroke="#000" stroke-width="1.11"/>
<text x="163.90" y="345.50" font-family='"Liberation Serif", serif' font-size="14.30">4</text>
<line x1="257.50" y1="327.50" x2="257.50" y2="332.36" stroke="#000" stroke-width="1.11"/>
<text x="253.62" y="345.50" font-family='"Liberation Serif", serif' font-size="14.30">8</text>
<line x1="348.50" y1="327.50" x2="348.50" y2="332.36" stroke="#000" stroke-width="1.11"/>
<text x="339.77" y="345.50" font-family='"Liberation Serif", serif' font-size="14.30">12</text>
<line x1="438.50" y1="327.50" x2="438.50" y2="332.36" stroke="#000" stroke-width="1.11"/>
<text x="429.58" y="345.50" font-family='"Liberation Serif", serif' font-size="14.30">16</text>
<line x1="528.50" y1="327.50" x2="528.50" y2="332.36" stroke="#000" stroke-width="1.11"/>
<text x="520.96" y="345.50" font-family='"Liberation Serif", serif' font-size="14.30">20</text>
<line x1="618.50" y1="327.50" x2="618.50" y2="332.36" stroke="#000" stroke-width="1.11"/>
<text x="610.95" y="345.50" font-family='"Liberation Serif", serif' font-size="14.30">24</text>
<line x1="72.64" y1="327.50" x2="77.50" y2="327.50" stroke="#000" stroke-width="1.11"/>
<text x="67.20" y="331.55" text-anchor="end" font-family='"Liberation Serif", serif' font-size="14.30">20</text>
<rect x="42.62" y="327.98" width="8.9" height="1.0" fill="#000"/>
<line x1="72.64" y1="315.50" x2="77.50" y2="315.50" stroke="#000" stroke-width="1.11"/>
<text x="67.20" y="319.55" text-anchor="end" font-family='"Liberation Serif", serif' font-size="14.30">0</text>
<line x1="72.64" y1="303.50" x2="77.50" y2="303.50" stroke="#000" stroke-width="1.11"/>
<text x="67.20" y="307.55" text-anchor="end" font-family='"Liberation Serif", serif' font-size="14.30">20</text>
<line x1="72.64" y1="292.50" x2="77.50" y2="292.50" stroke="#000" stroke-width="1.11"/>
<text x="67.20" y="296.55" text-anchor="end" font-family='"Liberation Serif", serif' font-size="14.30">40</text>
<line x1="72.64" y1="280.50" x2="77.50" y2="280.50" stroke="#000" stroke-width="1.11"/>
<text x="67.20" y="284.55" text-anchor="end" font-family='"Liberation Serif", serif' font-size="14.30">60</text>
<line x1="72.64" y1="268.50" x2="77.50" y2="268.50" stroke="#000" stroke-width="1.11"/>
<text x="67.20" y="272.55" text-anchor="end" font-family='"Liberation Serif", serif' font-size="14.30">80</text>
<line x1="167.50" y1="385.50" x2="167.50" y2="443.50" stroke="#b0b0b0" stroke-width="1.11"/>
<line x1="257.50" y1="385.50" x2="257.50" y2="443.50" stroke="#b0b0b0" stroke-width="1.11"/>
<line x1="348.50" y1="385.50" x2="348.50" y2="443.50" stroke="#b0b0b0" stroke-width="1.11"/>
<line x1="438.50" y1="385.50" x2="438.50" y2="443.50" stroke="#b0b0b0" stroke-width="1.11"/>
<line x1="528.50" y1="385.50" x2="528.50" y2="443.50" stroke="#b0b0b0" stroke-width="1.11"/>
<line x1="77.50" y1="423.50" x2="618.50" y2="423.50" stroke="#b0b0b0" stroke-width="1.11"/>
<line x1="77.50" y1="404.50" x2="618.50" y2="404.50" stroke="#b0b0b0" stroke-width="1.11"/>
<polyline points="77.50,408.67 77.50,408.67 77.50,408.67 78.12,408.67 78.12,403.83 82.62,403.83 82.62,408.67 84.03,408.67 84.03,403.83 85.62,403.83 85.62,408.67 86.84,408.67 86.84,413.50 90.12,413.50 90.12,408.67 93.41,408.67 93.41,413.50 94.62,413.50 94.62,418.33 95.37,418.33 95.37,413.50 101.56,413.50 101.56,418.33 102.50,418.33 102.50,413.50 104.94,413.50 104.94,418.33 105.69,418.33 105.69,413.50 106.25,413.50 106.25,403.83 106.81,403.83 106.81,413.50 107.37,413.50 107.37,408.67 107.94,408.67 107.94,403.83 108.50,403.83 108.50,408.67 109.34,408.67 109.34,403.83 110.00,403.83 110.00,408.67 110.56,408.67 110.56,403.83 111.69,403.83 111.69,399.00 113.56,399.00 113.56,403.83 115.62,403.83 115.62,399.00 118.44,399.00 118.44,403.83 120.12,403.83 120.12,408.67 121.25,408.67 121.25,403.83 122.00,403.83 122.00,408.67 122.56,408.67 122.56,403.83 123.12,403.83 123.12,408.67 123.69,408.67 123.69,413.50 124.44,413.50 124.44,403.83 125.00,403.83 125.00,399.00 126.22,399.00 126.22,394.17 128.56,394.17 128.56,389.33 131.37,389.33 131.37,394.17 132.12,394.17 132.12,399.00 133.72,399.00 133.72,394.17 135.59,394.17 135.59,399.00 139.81,399.00 139.81,394.17 141.69,394.17 141.69,399.00 144.97,399.00 144.97,403.83 146.56,403.83 146.56,399.00 147.78,399.00 147.78,394.17 151.06,394.17 151.06,399.00 153.87,399.00 153.87,394.17 154.81,394.17 154.81,399.00 155.75,399.00 155.75,394.17 167.00,394.17 167.00,389.33 168.87,389.33 168.87,394.17 173.09,394.17 173.09,399.00 174.50,399.00 174.50,389.33 178.72,389.33 178.72,394.17 180.59,394.17 180.59,399.00 182.47,399.00 182.47,394.17 184.34,394.17 184.34,399.00 185.75,399.00 185.75,394.17 194.00,394.17 194.00,403.83 195.31,403.83 195.31,394.17 197.94,394.17 197.94,399.00 199.34,399.00 199.34,403.83 200.28,403.83 200.28,394.17 201.22,394.17 201.22,399.00 202.16,399.00 202.16,394.17 203.09,394.17 203.09,403.83 204.03,403.83 204.03,394.17 204.97,394.17 204.97,408.67 205.91,408.67 205.91,394.17 206.84,394.17 206.84,403.83 208.25,403.83 208.25,394.17 209.19,394.17 209.19,403.83 210.12,403.83 210.12,394.17 212.00,394.17 212.00,394.17 212.94,394.17 212.94,403.83 213.87,403.83 213.87,399.00 217.62,399.00 217.62,403.83 219.03,403.83 219.03,399.00 220.44,399.00 220.44,403.83 222.31,403.83 222.31,399.00 224.19,399.00 224.19,394.17 230.75,394.17 230.75,399.00 232.16,399.00 232.16,403.83 233.37,403.83 233.37,399.00 235.44,399.00 235.44,403.83 236.56,403.83 236.56,399.00 237.78,399.00 237.78,403.83 239.19,403.83 239.19,399.00 242.94,399.00 242.94,394.17 244.34,394.17 244.34,389.33 245.75,389.33 245.75,384.50 247.16,384.50 247.16,379.67 251.37,379.67 251.37,384.50 252.12,384.50 252.12,394.17 253.72,394.17 253.72,384.50 254.65,384.50 254.65,379.67 257.00,379.67 257.00,384.50 257.94,384.50 257.94,389.33 259.81,389.33 259.81,394.17 260.75,394.17 260.75,389.33 262.16,389.33 262.16,394.17 263.56,394.17 263.56,389.33 270.12,389.33 270.12,394.17 271.53,394.17 271.53,389.33 272.94,389.33 272.94,394.17 273.87,394.17 273.87,399.00 275.75,399.00 275.75,394.17 276.69,394.17 276.69,399.00 279.03,399.00 279.03,394.17 293.09,394.17 293.09,399.00 299.19,399.00 299.19,403.83 300.31,403.83 300.31,394.17 302.00,394.17 302.00,394.17 303.69,394.17 303.69,399.00 304.34,399.00 304.34,394.17 306.22,394.17 306.22,399.00 308.09,399.00 308.09,394.17 311.37,394.17 311.37,399.00 312.78,399.00 312.78,403.83 314.19,403.83 314.19,399.00 315.12,399.00 315.12,403.83 316.06,403.83 316.06,399.00 328.25,399.00 328.25,394.17 332.94,394.17 332.94,399.00 334.34,399.00 334.34,403.83 336.22,403.83 336.22,408.67 337.44,408.67 337.44,403.83 339.50,403.83 339.50,399.00 340.44,399.00 340.44,403.83 342.31,403.83 342.31,408.67 343.44,408.67 343.44,403.83 347.00,403.83 347.00,403.83 347.94,403.83 347.94,408.67 349.06,408.67 349.06,403.83 352.62,403.83 352.62,408.67 354.50,408.67 354.50,403.83 360.12,403.83 360.12,408.67 363.87,408.67 363.87,403.83 370.44,403.83 370.44,408.67 371.84,408.67 371.84,413.50 376.06,413.50 376.06,408.67 377.47,408.67 377.47,413.50 378.87,413.50 378.87,408.67 379.81,408.67 379.81,413.50 381.69,413.50 381.69,408.67 383.56,408.67 383.56,403.83 389.65,403.83 389.65,408.67 391.06,408.67 391.06,403.83 392.00,403.83 392.00,408.67 392.94,408.67 392.94,403.83 396.50,403.83 396.50,413.50 397.16,413.50 397.16,403.83 398.09,403.83 398.09,408.67 399.50,408.67 399.50,403.83 400.91,403.83 400.91,408.67 401.37,408.67 401.37,399.00 403.25,399.00 403.25,394.17 405.59,394.17 405.59,399.00 407.47,399.00 407.47,403.83 408.41,403.83 408.41,399.00 409.81,399.00 409.81,408.67 410.75,408.67 410.75,399.00 412.16,399.00 412.16,403.83 413.09,403.83 413.09,399.00 413.75,399.00 413.75,413.50 414.50,413.50 414.50,399.00 416.84,399.00 416.84,403.83 422.94,403.83 422.94,408.67 425.28,408.67 425.28,413.50 427.16,413.50 427.16,408.67 428.09,408.67 428.09,413.50 430.44,413.50 430.44,408.67 437.00,408.67 437.00,408.67 440.75,408.67 440.75,413.50 444.50,413.50 444.50,418.33 445.44,418.33 445.44,413.50 452.00,413.50 452.00,408.67 455.28,408.67 455.28,413.50 457.16,413.50 457.16,418.33 459.03,418.33 459.03,413.50 460.91,413.50 460.91,418.33 463.25,418.33 463.25,413.50 465.12,413.50 465.12,418.33 467.00,418.33 467.00,413.50 468.87,413.50 468.87,418.33 469.34,418.33 469.34,413.50 472.62,413.50 472.62,408.67 475.44,408.67 475.44,413.50 476.37,413.50 476.37,408.67 478.25,408.67 478.25,413.50 479.65,413.50 479.65,408.67 481.06,408.67 481.06,413.50 481.53,413.50 481.53,408.67 482.00,408.67 482.00,408.67 482.47,408.67 482.47,413.50 483.87,413.50 483.87,408.67 484.62,408.67 484.62,423.17 485.75,423.17 485.75,413.50 491.84,413.50 491.84,418.33 493.06,418.33 493.06,413.50 496.06,413.50 496.06,408.67 501.69,408.67 501.69,413.50 503.56,413.50 503.56,418.33 504.97,418.33 504.97,413.50 506.37,413.50 506.37,408.67 509.66,408.67 509.66,403.83 510.59,403.83 510.59,408.67 511.06,408.67 511.06,403.83 516.69,403.83 516.69,408.67 518.09,408.67 518.09,403.83 520.44,403.83 520.44,408.67 521.37,408.67 521.37,413.50 524.65,413.50 524.65,408.67 527.00,408.67 527.00,408.67 527.94,408.67 527.94,413.50 528.87,413.50 528.87,408.67 530.28,408.67 530.28,413.50 531.22,413.50 531.22,408.67 532.62,408.67 532.62,413.50 533.56,413.50 533.56,408.67 534.97,408.67 534.97,413.50 537.31,413.50 537.31,418.33 538.72,418.33 538.72,413.50 540.12,413.50 540.12,418.33 541.53,418.33 541.53,413.50 542.47,413.50 542.47,418.33 543.41,418.33 543.41,413.50 546.22,413.50 546.22,423.17 547.62,423.17 547.62,413.50 557.94,413.50 557.94,418.33 558.87,418.33 558.87,408.67 564.03,408.67 564.03,403.83 569.19,403.83 569.19,408.67 570.12,408.67 570.12,413.50 570.87,413.50 570.87,418.33 571.53,418.33 571.53,408.67 572.00,408.67 572.00,408.67 573.04,408.67 573.04,413.50 574.60,413.50 574.60,418.33 575.65,418.33 575.65,413.50 578.25,413.50 578.25,418.33 579.29,418.33 579.29,413.50 582.42,413.50 582.42,418.33 585.02,418.33 585.02,423.17 586.06,423.17 586.06,418.33 589.19,418.33 589.19,423.17 590.23,423.17 590.23,418.33 594.40,418.33 594.40,403.83 603.25,403.83 603.25,413.50 604.29,413.50 604.29,408.67 605.33,408.67 605.33,413.50 606.90,413.50 606.90,408.67 609.50,408.67 609.50,413.50 611.06,413.50 611.06,408.67 612.10,408.67 612.10,413.50 613.67,413.50 613.67,408.67 614.71,408.67 614.71,413.50 616.27,413.50 616.27,408.67 617.83,408.67 617.83,413.50 618.50,413.50" fill="none" stroke="#1f77b4" stroke-width="2.08" stroke-linejoin="round" stroke-linecap="square" clip-path="url(#c3)"/>
<rect x="77.50" y="385.50" width="541.00" height="58.00" fill="none" stroke="#000" stroke-width="1.11"/>
<line x1="77.50" y1="443.50" x2="77.50" y2="448.36" stroke="#000" stroke-width="1.11"/>
<text x="73.77" y="461.50" font-family='"Liberation Serif", serif' font-size="14.30">0</text>
<line x1="167.50" y1="443.50" x2="167.50" y2="448.36" stroke="#000" stroke-width="1.11"/>
<text x="163.90" y="461.50" font-family='"Liberation Serif", serif' font-size="14.30">4</text>
<line x1="257.50" y1="443.50" x2="257.50" y2="448.36" stroke="#000" stroke-width="1.11"/>
<text x="253.62" y="461.50" font-family='"Liberation Serif", serif' font-size="14.30">8</text>
<line x1="348.50" y1="443.50" x2="348.50" y2="448.36" stroke="#000" stroke-width="1.11"/>
<text x="339.77" y="461.50" font-family='"Liberation Serif", serif' font-size="14.30">12</text>
<line x1="438.50" y1="443.50" x2="438.50" y2="448.36" stroke="#000" stroke-width="1.11"/>
<text x="429.58" y="461.50" font-family='"Liberation Serif", serif' font-size="14.30">16</text>
<line x1="528.50" y1="443.50" x2="528.50" y2="448.36" stroke="#000" stroke-width="1.11"/>
<text x="520.96" y="461.50" font-family='"Liberation Serif", serif' font-size="14.30">20</text>
<line x1="618.50" y1="443.50" x2="618.50" y2="448.36" stroke="#000" stroke-width="1.11"/>
<text x="610.95" y="461.50" font-family='"Liberation Serif", serif' font-size="14.30">24</text>
<line x1="72.64" y1="443.50" x2="77.50" y2="443.50" stroke="#000" stroke-width="1.11"/>
<text x="67.20" y="447.55" text-anchor="end" font-family='"Liberation Serif", serif' font-size="14.30">0</text>
<line x1="72.64" y1="423.50" x2="77.50" y2="423.50" stroke="#000" stroke-width="1.11"/>
<text x="67.20" y="427.55" text-anchor="end" font-family='"Liberation Serif", serif' font-size="14.30">4</text>
<line x1="72.64" y1="404.50" x2="77.50" y2="404.50" stroke="#000" stroke-width="1.11"/>
<text x="67.20" y="408.55" text-anchor="end" font-family='"Liberation Serif", serif' font-size="14.30">8</text>
<line x1="72.64" y1="385.50" x2="77.50" y2="385.50" stroke="#000" stroke-width="1.11"/>
<text x="67.20" y="389.55" text-anchor="end" font-family='"Liberation Serif", serif' font-size="14.30">12</text>
<text transform="translate(88.53 28.00) scale(0.8992 1)" font-family='"Liberation Sans", sans-serif' font-size="16.60">Howard</text>
<text transform="translate(294.97 27.80) scale(0.8905 1)" font-family='"Liberation Sans", sans-serif' font-size="16.60">Threshold</text>
<text transform="translate(522.59 27.80) scale(1.0922 1)" font-family='"Liberation Sans", sans-serif' font-size="14.82">2025/09/22</text>
<text transform="translate(305.91 143.80) scale(0.9032 1)" font-family='"Liberation Sans", sans-serif' font-size="16.60">Triggers/sec</text>
<text transform="translate(305.16 258.90) scale(0.9040 1)" font-family='"Liberation Sans", sans-serif' font-size="16.60">Temperature</text>
<text transform="translate(287.72 375.60) scale(0.9069 1)" font-family='"Liberation Sans", sans-serif' font-size="16.60">Satellites Tracked</text>
<text transform="translate(27.60 79.05) rotate(-90) scale(1.0080 1)" font-family='"Liberation Sans", sans-serif' font-size="12.98">dBm</text>
<text transform="translate(25.20 198.55) rotate(-90) scale(0.9147 1)" font-family='"Liberation Sans", sans-serif' font-size="14.03">Count</text>
<text transform="translate(44.75 437.95) rotate(-90) scale(0.9288 1)" font-family='"Liberation Sans", sans-serif' font-size="13.75">Number</text>
<text transform="translate(35.00 298.25) rotate(-90) scale(0.7843 1)" font-family='"Liberation Sans", sans-serif' font-size="13.89">C</text>
<ellipse cx="27.5" cy="302.3" rx="2.0" ry="1.9" fill="none" stroke="#000" stroke-width="0.9"/>
</svg></div></body></html>
